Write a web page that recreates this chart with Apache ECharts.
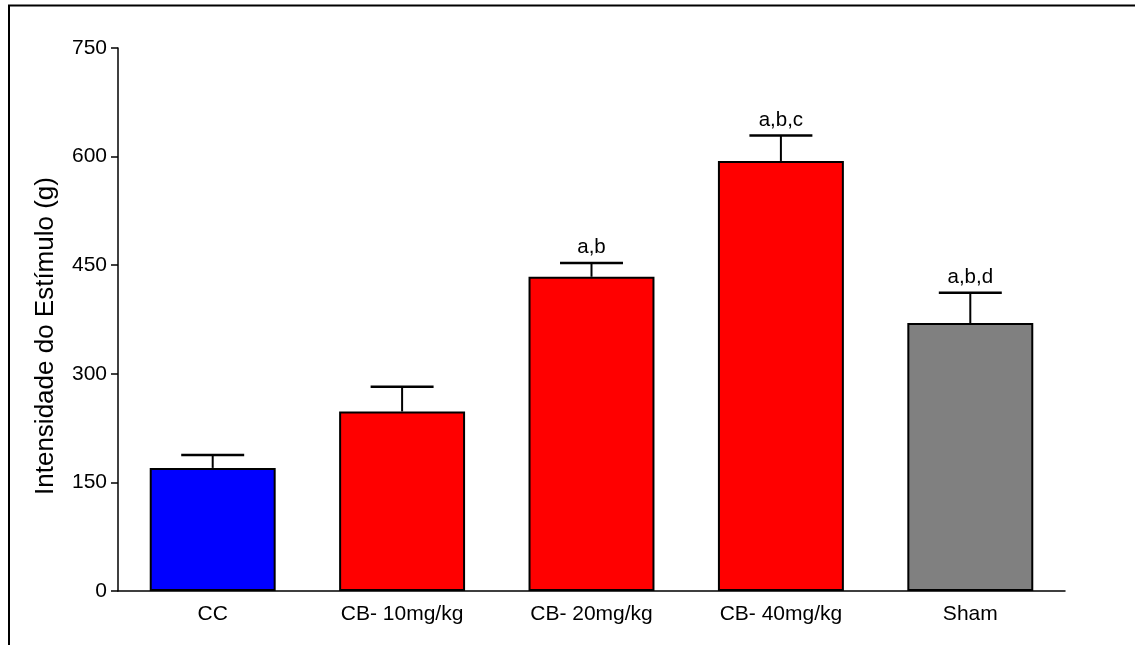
<!DOCTYPE html>
<html>
<head>
<meta charset="utf-8">
<script src="https://cdn.jsdelivr.net/npm/echarts@6/dist/echarts.min.js"></script>
<style>html,body{margin:0;padding:0;background:#fff}#chart{width:1135px;height:645px}</style>
</head>
<body>
<div id="chart"></div>
<script>
const categories = ['CC', 'CB- 10mg/kg', 'CB- 20mg/kg', 'CB- 40mg/kg', 'Sham'];
const means = [170, 248, 434, 594, 370];
const errorTops = [188, 282, 453, 629, 412];
const annotations = ['', '', 'a,b', 'a,b,c', 'a,b,d'];
const barColors = ['#0000FF', '#FF0000', '#FF0000', '#FF0000', '#808080'];
const yTicks = [0, 150, 300, 450, 600, 750];
const yTitle = 'Intensidade do Estímulo (g)';

const FONT = '"Liberation Sans", Arial, Helvetica, sans-serif';
const chart = echarts.init(document.getElementById('chart'), null, {renderer: 'canvas'});

const errData = categories.map((c, i) => [i, means[i], errorTops[i], annotations[i]]);

chart.setOption({
  animation: false,
  backgroundColor: '#fff',
  grid: {left: 118, right: 70, top: 48, bottom: 54, containLabel: false},
  xAxis: {
    type: 'category',
    data: categories,
    boundaryGap: true,
    axisLine: {lineStyle: {color: '#000', width: 1.5}},
    axisTick: {alignWithLabel: true, length: 7, lineStyle: {color: '#000', width: 1.5}},
    axisLabel: {color: '#000', fontSize: 21, fontFamily: FONT, margin: 13}
  },
  yAxis: {
    type: 'value',
    min: yTicks[0],
    max: yTicks[yTicks.length - 1],
    interval: 150,
    splitLine: {show: false},
    axisLine: {show: true, lineStyle: {color: '#000', width: 1.5}},
    axisTick: {show: true, length: 7, lineStyle: {color: '#000', width: 1.5}},
    axisLabel: {color: '#000', fontSize: 21, fontFamily: FONT, margin: 11}
  },
  series: [
    {
      type: 'bar',
      barWidth: '66.5%',
      data: means.map((v, i) => ({value: v, itemStyle: {color: barColors[i]}})),
      itemStyle: {borderColor: '#000', borderWidth: 2},
      z: 2
    },
    {
      type: 'custom',
      data: errData,
      z: 3,
      renderItem: function (params, api) {
        const x = api.value(0);
        const p0 = api.coord([x, api.value(1)]);
        const p1 = api.coord([x, api.value(2)]);
        const bw = api.size([1, 0])[0] * 0.665;
        const half = bw / 4;
        const children = [
          {type: 'line', shape: {x1: p0[0], y1: p0[1], x2: p1[0], y2: p1[1]}, style: {stroke: '#000', lineWidth: 2}},
          {type: 'line', shape: {x1: p1[0] - half, y1: p1[1], x2: p1[0] + half, y2: p1[1]}, style: {stroke: '#000', lineWidth: 2.5}}
        ];
        const txt = errData[params.dataIndex][3];
        if (txt) {
          children.push({
            type: 'text',
            style: {text: txt, x: p1[0], y: p1[1] - 5, align: 'center', verticalAlign: 'bottom',
              fill: '#000', fontSize: 20.5, fontFamily: FONT}
          });
        }
        return {type: 'group', children: children};
      }
    }
  ],
  graphic: [
    {type: 'line', shape: {x1: 8, y1: 5.5, x2: 1135, y2: 5.5}, style: {stroke: '#000', lineWidth: 2}},
    {type: 'line', shape: {x1: 9, y1: 5, x2: 9, y2: 645}, style: {stroke: '#000', lineWidth: 2}},
    {type: 'text', x: 46, y: 336, rotation: Math.PI / 2,
      style: {text: yTitle, align: 'center', verticalAlign: 'middle', fill: '#000', fontSize: 26, fontFamily: FONT}}
  ]
});
</script>
</body>
</html>
